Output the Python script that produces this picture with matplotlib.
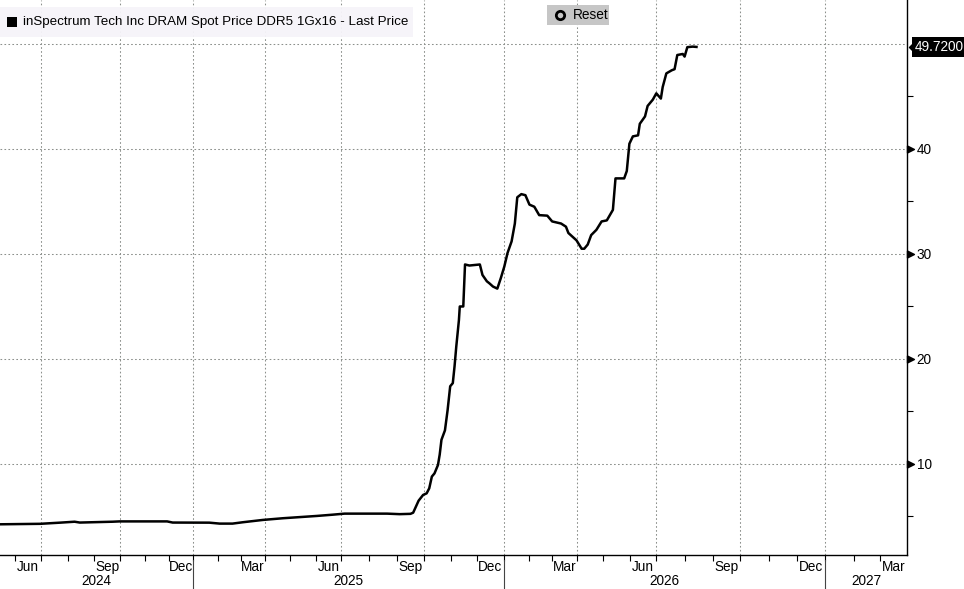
import datetime as dt
import numpy as np
import matplotlib
matplotlib.use("Agg")
import matplotlib.pyplot as plt
import matplotlib.dates as mdates
import matplotlib.ticker as mticker
import matplotlib.transforms as mtransforms
from matplotlib.patches import Rectangle
from matplotlib.path import Path
from matplotlib.markers import MarkerStyle

# ---------------- data ----------------
dates = [
    "2024-05-10", "2024-06-30", "2024-07-23", "2024-08-09", "2024-08-15", "2024-09-22",
    "2024-09-30", "2024-11-29", "2024-12-06", "2025-01-21", "2025-02-03", "2025-02-19",
    "2025-03-04", "2025-03-29", "2025-04-22", "2025-06-02", "2025-06-21", "2025-07-05",
    "2025-08-21", "2025-09-04", "2025-09-16", "2025-09-19", "2025-09-25", "2025-09-30",
    "2025-10-04", "2025-10-07", "2025-10-10", "2025-10-13", "2025-10-17", "2025-10-19",
    "2025-10-21", "2025-10-25", "2025-10-28", "2025-10-31", "2025-11-03", "2025-11-05",
    "2025-11-07", "2025-11-10", "2025-11-11", "2025-11-15", "2025-11-17", "2025-11-22",
    "2025-12-04", "2025-12-07", "2025-12-12", "2025-12-15", "2025-12-19", "2025-12-24",
    "2025-12-28", "2026-01-01", "2026-01-05", "2026-01-10", "2026-01-14", "2026-01-17",
    "2026-01-22", "2026-01-27", "2026-02-01", "2026-02-07", "2026-02-13", "2026-02-23",
    "2026-03-01", "2026-03-12", "2026-03-18", "2026-03-21", "2026-03-31", "2026-04-06",
    "2026-04-09", "2026-04-13", "2026-04-17", "2026-04-23", "2026-04-29", "2026-05-05",
    "2026-05-12", "2026-05-15", "2026-05-25", "2026-05-28", "2026-05-31", "2026-06-04",
    "2026-06-10", "2026-06-12", "2026-06-18", "2026-06-21", "2026-06-27", "2026-07-01",
    "2026-07-06", "2026-07-08", "2026-07-12", "2026-07-18", "2026-07-21", "2026-07-24",
    "2026-07-30", "2026-08-01", "2026-08-04", "2026-08-10", "2026-08-14",
]
prices = [
    4.25, 4.30, 4.41, 4.50, 4.42, 4.50,
    4.53, 4.53, 4.42, 4.41, 4.32, 4.32,
    4.45, 4.67, 4.83, 5.05, 5.17, 5.27,
    5.27, 5.22, 5.25, 5.36, 6.50, 7.05,
    7.20, 7.68, 8.80, 9.10, 9.90, 10.90,
    12.30, 13.20, 15.10, 17.40, 17.70, 19.30,
    21.20, 23.70, 25.00, 25.00, 29.00, 28.90,
    29.00, 28.00, 27.40, 27.20, 26.90, 26.70,
    27.70, 28.80, 30.10, 31.20, 32.90, 35.40,
    35.70, 35.60, 34.70, 34.50, 33.70, 33.65,
    33.10, 32.90, 32.60, 32.00, 31.30, 30.50,
    30.50, 30.90, 31.80, 32.30, 33.10, 33.20,
    34.20, 37.20, 37.20, 37.90, 40.50, 41.20,
    41.30, 42.40, 43.10, 44.10, 44.70, 45.30,
    44.80, 45.90, 47.20, 47.50, 47.60, 48.95,
    49.05, 48.80, 49.70, 49.75, 49.72,
]
last_price = 49.72
last_price_label = "49.7200"
title = "inSpectrum Tech Inc DRAM Spot Price DDR5 1Gx16 - Last Price"
month_labels = ["Jun", "Sep", "Dec", "Mar", "Jun", "Sep", "Dec", "Mar", "Jun", "Sep", "Dec", "Mar"]
month_label_dates = ["2024-06-16", "2024-09-16", "2024-12-16", "2025-03-16", "2025-06-16",
                     "2025-09-16", "2025-12-16", "2026-03-16", "2026-06-16", "2026-09-16",
                     "2026-12-16", "2027-03-16"]
year_labels = ["2024", "2025", "2026", "2027"]
year_starts = ["2025-01-01", "2026-01-01", "2027-01-01"]
y_major = [10, 20, 30, 40, 50]
y_major_labels = ["10", "20", "30", "40", ""]
y_minor = [5, 15, 25, 35, 45]

# ------------- layout (non-uniform time axis, as in the terminal chart) -------------
axis_anchor_dates = ["2023-01-01", "2024-04-01", "2024-07-01", "2024-10-01", "2025-01-01",
                     "2025-04-01", "2025-07-01", "2025-10-01", "2026-01-01", "2026-04-01",
                     "2026-07-01", "2026-10-01", "2027-01-01", "2027-04-01", "2028-01-01"]
axis_anchor_pos = [-430.5, -37.4, 41.0, 120.3, 193.3, 265.3, 341.0, 424.0, 504.3, 577.3,
                   656.3, 740.3, 825.3, 908.5, 1162.6]


def d2n(s):
    return mdates.date2num(dt.datetime.strptime(s, "%Y-%m-%d"))


anc_d = np.array([d2n(s) for s in axis_anchor_dates])
anc_p = np.array(axis_anchor_pos)


def fwd(x):
    return np.interp(x, anc_d, anc_p)


def inv(p):
    return np.interp(p, anc_p, anc_d)


W, H = 964, 589
FONT = "Liberation Sans"
plt.rcParams["font.family"] = [FONT, "DejaVu Sans"]

fig = plt.figure(figsize=(W / 100, H / 100), dpi=100)
fig.patch.set_facecolor("white")
ax = fig.add_axes([0, (H - 555) / H, 907 / W, 555 / H])
ax.set_facecolor("white")

x = np.array([d2n(s) for s in dates])
y = np.array(prices)

ax.set_xscale("function", functions=(fwd, inv))
ax.plot(x, y, color="black", lw=1.8, solid_joinstyle="round", zorder=3)

ax.set_xlim(inv(0.0), inv(907.0))
ax.set_ylim(1.33, 54.19)

# x ticks
ax.xaxis.set_major_locator(mdates.MonthLocator(bymonth=[1, 4, 7, 10]))
ax.xaxis.set_minor_locator(mdates.MonthLocator())
ax.xaxis.set_major_formatter(mticker.NullFormatter())
ax.xaxis.set_minor_formatter(mticker.NullFormatter())
ax.tick_params(axis="x", which="both", direction="out", length=4, width=0.8, color="black")

# y ticks on right
ax.yaxis.tick_right()
ax.set_yticks(y_major)
ax.set_yticklabels(y_major_labels)
ax.set_yticks(y_minor, minor=True)
ax.tick_params(axis="y", which="major", length=0, pad=7.0, labelsize=9.8, labelcolor="black")
ax.tick_params(axis="y", which="minor", length=4, width=0.8, direction="out", color="black")

grid_kw = dict(color="#8c908c", lw=0.75, linestyle=(0, (1.6, 2.2)))
ax.grid(axis="x", which="major", **grid_kw)
ax.grid(axis="y", which="major", **grid_kw)
ax.set_axisbelow(True)

for s in ["top", "left"]:
    ax.spines[s].set_visible(False)
for s in ["right", "bottom"]:
    ax.spines[s].set_color("black")
    ax.spines[s].set_linewidth(1.0)

# triangle tick markers on the right axis
tri = Path([(0, -1), (2, 0), (0, 1), (0, -1)],
           [Path.MOVETO, Path.LINETO, Path.LINETO, Path.CLOSEPOLY])
ytrans = mtransforms.blended_transform_factory(ax.transAxes, ax.transData)
ax.plot([1.0] * 4, y_major[:4], linestyle="none", marker=MarkerStyle(tri), markersize=10,
        color="black", transform=ytrans, clip_on=False, zorder=5)

# month labels
xtrans = mtransforms.blended_transform_factory(ax.transData, ax.transAxes)
for lab, d in zip(month_labels, month_label_dates):
    ax.text(d2n(d), -12 / 555, lab, transform=xtrans, ha="center", va="center",
            fontsize=9.8, color="black", clip_on=False)

# year labels and separators
xl0, xl1 = ax.get_xlim()
bounds = [xl0] + [d2n(s) for s in year_starts] + [xl1]
for i, lab in enumerate(year_labels):
    c = inv((fwd(bounds[i]) + fwd(bounds[i + 1])) / 2)
    ax.text(c, -26 / 555, lab, transform=xtrans, ha="center", va="center",
            fontsize=9.8, color="black", clip_on=False)
for s in year_starts:
    ax.plot([d2n(s), d2n(s)], [-5 / 555, -34 / 555], transform=xtrans, color="#444444",
            lw=0.8, clip_on=False)

# last price tag
ax.annotate(last_price_label, xy=(1.0, last_price), xycoords=ytrans, xytext=(8, 0),
            textcoords="offset pixels", ha="left", va="center", color="white",
            fontsize=9.8, annotation_clip=False, zorder=7,
            bbox=dict(boxstyle="square,pad=0.2", fc="black", ec="none"))
notch = Path([(0, 0), (1.0, -1), (1.0, 1), (0, 0)],
             [Path.MOVETO, Path.LINETO, Path.LINETO, Path.CLOSEPOLY])
ax.plot([1.0], [last_price], marker=MarkerStyle(notch), markersize=10, color="black",
        linestyle="none", clip_on=False, zorder=6,
        transform=ytrans + mtransforms.ScaledTranslation(2 / 100, 0, fig.dpi_scale_trans))

# title panel
fig.patches.append(Rectangle((0, 1 - 37 / H), 413 / W, 30 / H, transform=fig.transFigure,
                             fc="#f6f4f9", ec="none", alpha=0.95, zorder=2))
fig.patches.append(Rectangle((7 / W, 1 - 27 / H), 10 / W, 10 / H, transform=fig.transFigure,
                             fc="black", ec="none", zorder=3))
fig.text(23 / W, 1 - 22.5 / H, title, ha="left", va="center", fontsize=9.6, color="black",
         zorder=4)

# reset button
fig.patches.append(Rectangle((547 / W, 1 - 25 / H), 62 / W, 20 / H, transform=fig.transFigure,
                             fc="#c6c6c6", ec="none", zorder=2))
fig.add_artist(plt.Line2D([560 / W], [1 - 15 / H], transform=fig.transFigure, marker="o",
                          markersize=6, markerfacecolor="none", markeredgecolor="black",
                          markeredgewidth=2.0, linestyle="none", zorder=4))
fig.text(573 / W, 1 - 15 / H, "Reset", ha="left", va="center", fontsize=9.8, color="black",
         zorder=4)

fig.savefig("out.png", dpi=100, facecolor="white")
